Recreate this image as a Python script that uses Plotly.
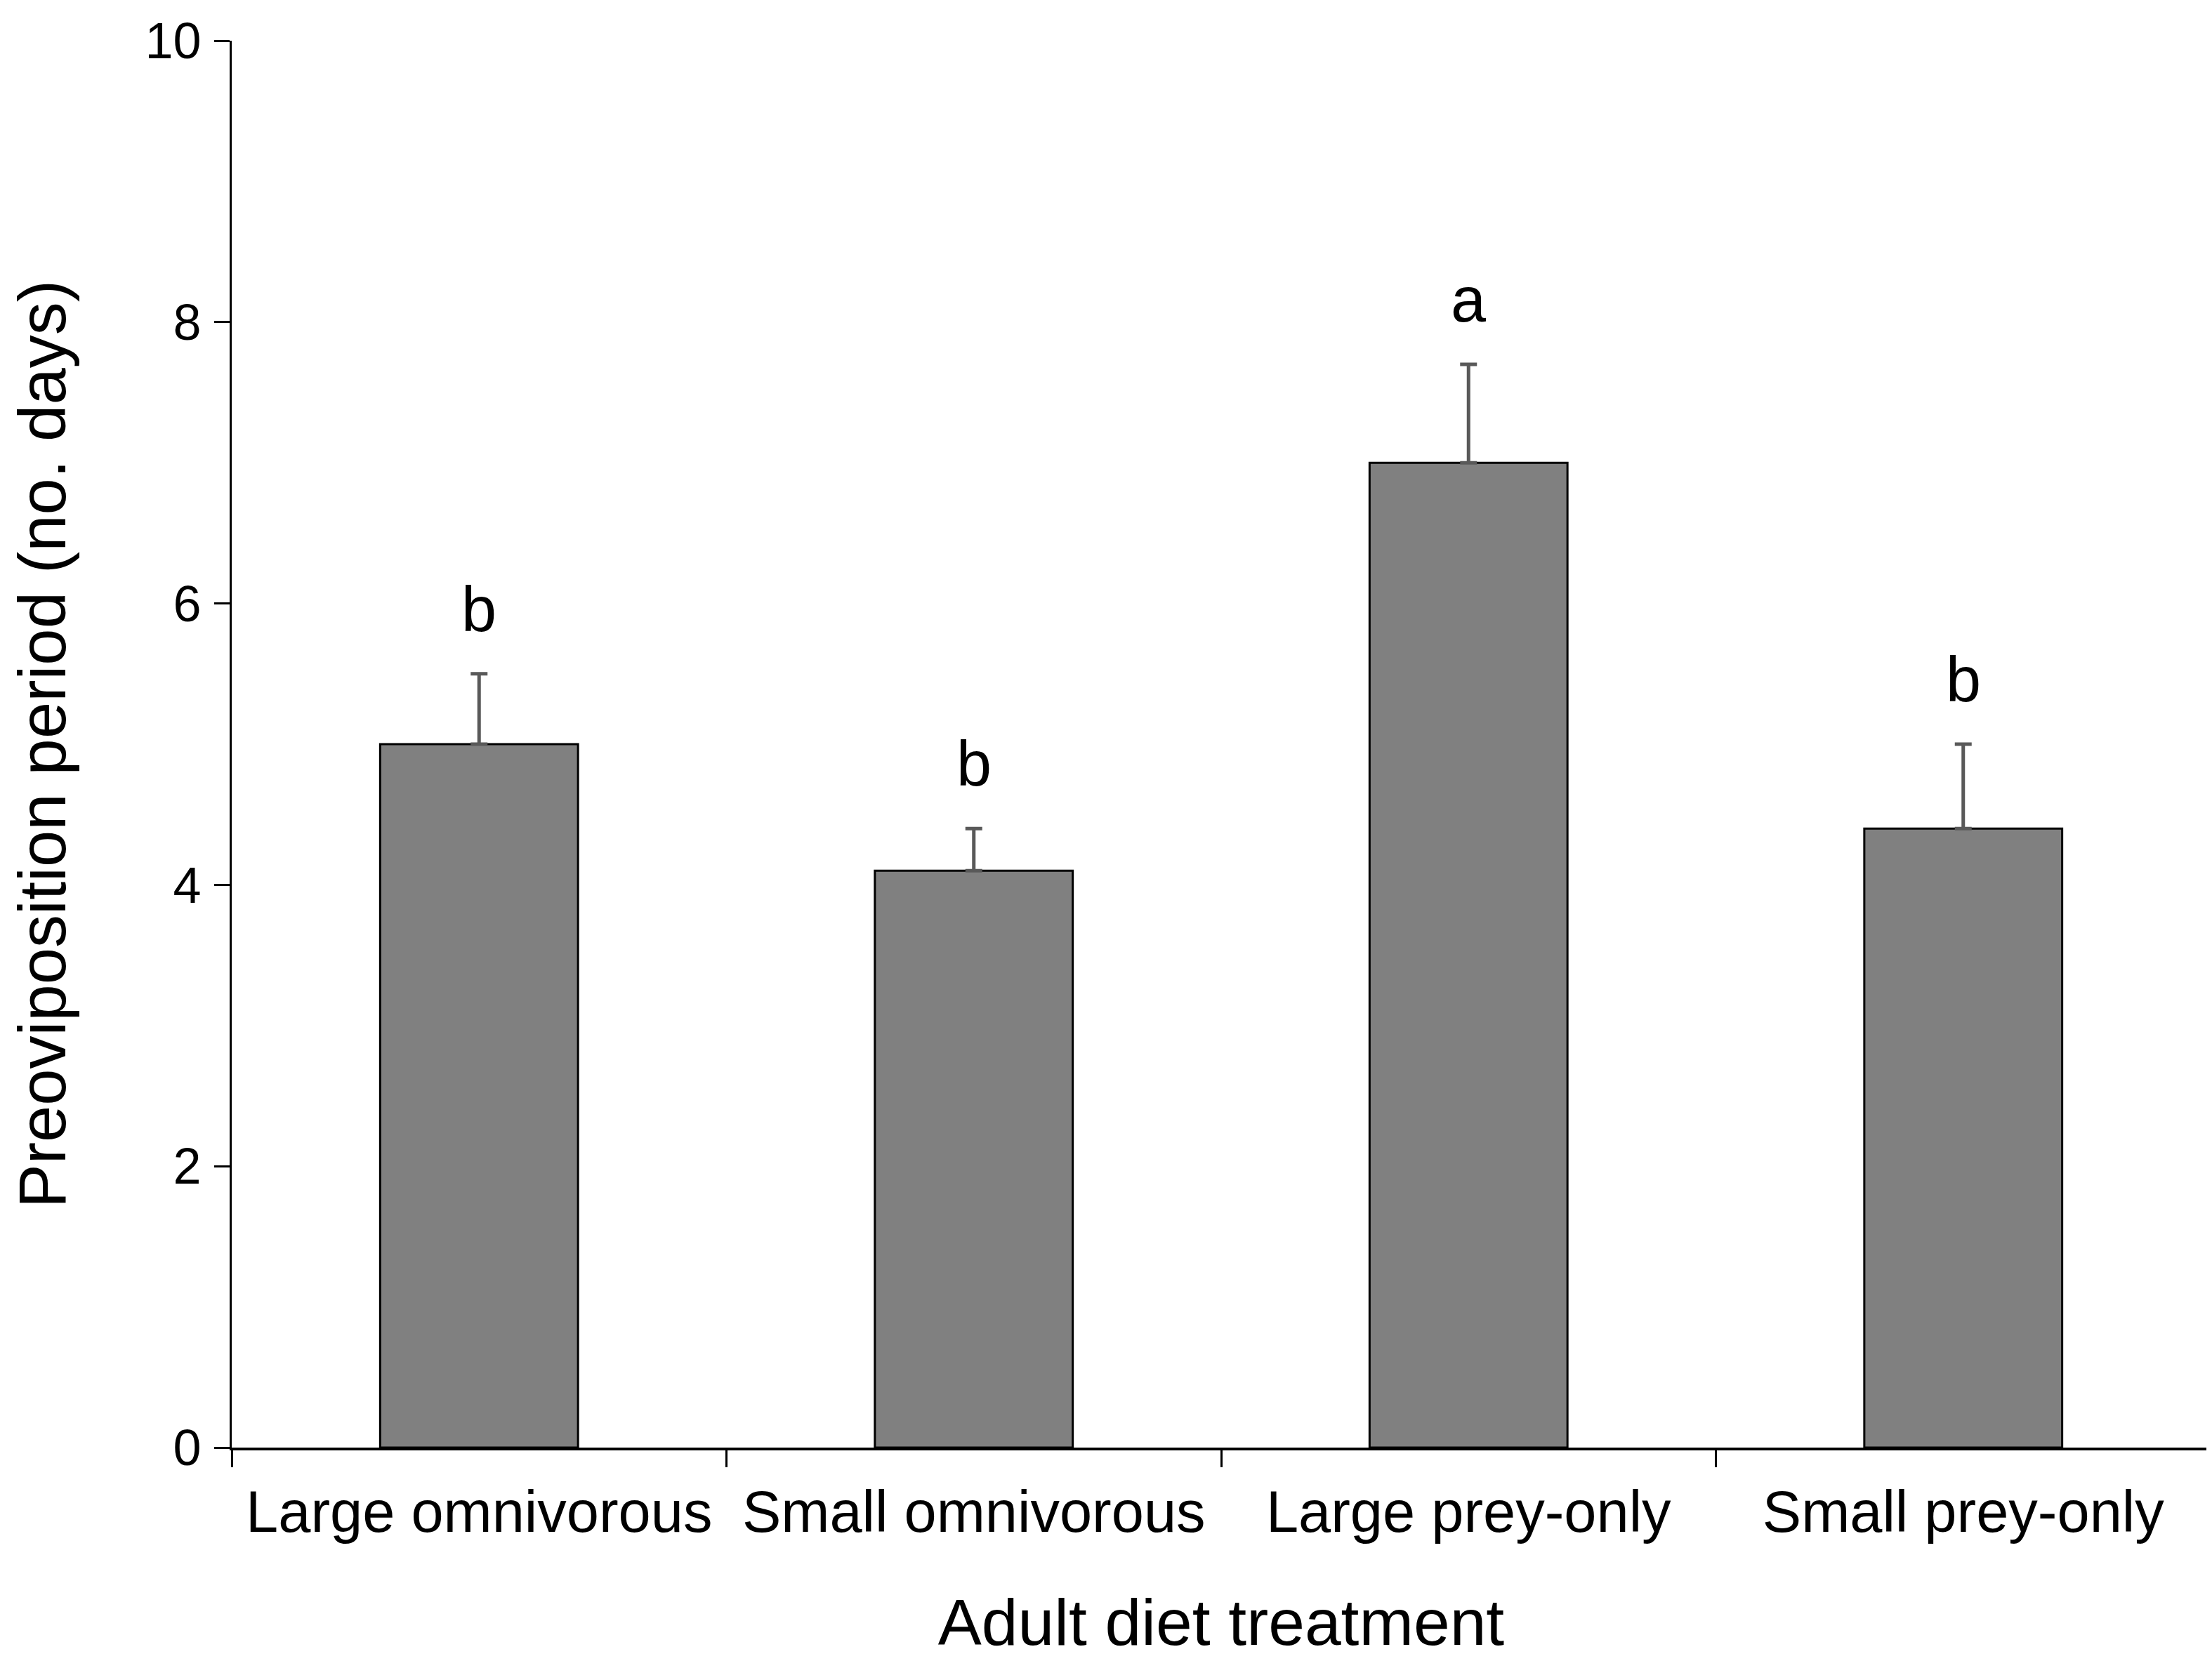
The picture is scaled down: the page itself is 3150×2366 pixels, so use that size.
import plotly.graph_objects as go

# Adult diet treatment vs preoviposition period
treatments = ["Large omnivorous", "Small omnivorous", "Large prey-only", "Small prey-only"]
mean_days = [5.0, 4.1, 7.0, 4.4]
se_days = [0.5, 0.3, 0.7, 0.6]
letters = ["b", "b", "a", "b"]

FONT = "Liberation Sans, Arial, sans-serif"

fig = go.Figure()

fig.add_trace(go.Bar(
    x=treatments,
    y=mean_days,
    width=0.4,
    marker=dict(color="#808080", line=dict(color="#000000", width=3)),
    error_y=dict(type="data", array=se_days, symmetric=False, arrayminus=[0] * 4,
                 color="#595959", thickness=5, width=12),
    showlegend=False,
))

# significance letters above the error bars
for t, m, s, lab in zip(treatments, mean_days, se_days, letters):
    fig.add_annotation(
        x=t, y=m + s, text=lab, showarrow=False,
        yanchor="bottom", yshift=40,
        font=dict(family=FONT, size=90, color="#000000"),
    )

fig.update_layout(
    width=3150, height=2366,
    paper_bgcolor="#ffffff",
    plot_bgcolor="#ffffff",
    font=dict(family=FONT, color="#000000"),
    margin=dict(l=322, r=10, t=46, b=312),
    bargap=0.6,
)

fig.update_xaxes(
    range=[-0.5, 3.5],
    showline=True, linecolor="#000000", linewidth=4,
    ticks="outside", tickson="boundaries", ticklen=24, tickwidth=3, tickcolor="#000000",
    tickfont=dict(family=FONT, size=83, color="#000000"),
    ticklabelstandoff=16,
    showgrid=False, zeroline=False,
    title=dict(text="Adult diet treatment", font=dict(family=FONT, size=93, color="#000000"),
               standoff=80),
)

fig.update_yaxes(
    range=[0, 10], dtick=2, tick0=0,
    showline=True, linecolor="#000000", linewidth=3,
    ticks="outside", ticklen=22, tickwidth=3, tickcolor="#000000",
    tickfont=dict(family=FONT, size=72, color="#000000"),
    ticklabelstandoff=4, ticklabeloverflow="allow",
    showgrid=False, zeroline=False,
    title=dict(text="Preoviposition period (no. days)",
               font=dict(family=FONT, size=94, color="#000000"), standoff=122),
)

fig.write_html("out.html")
